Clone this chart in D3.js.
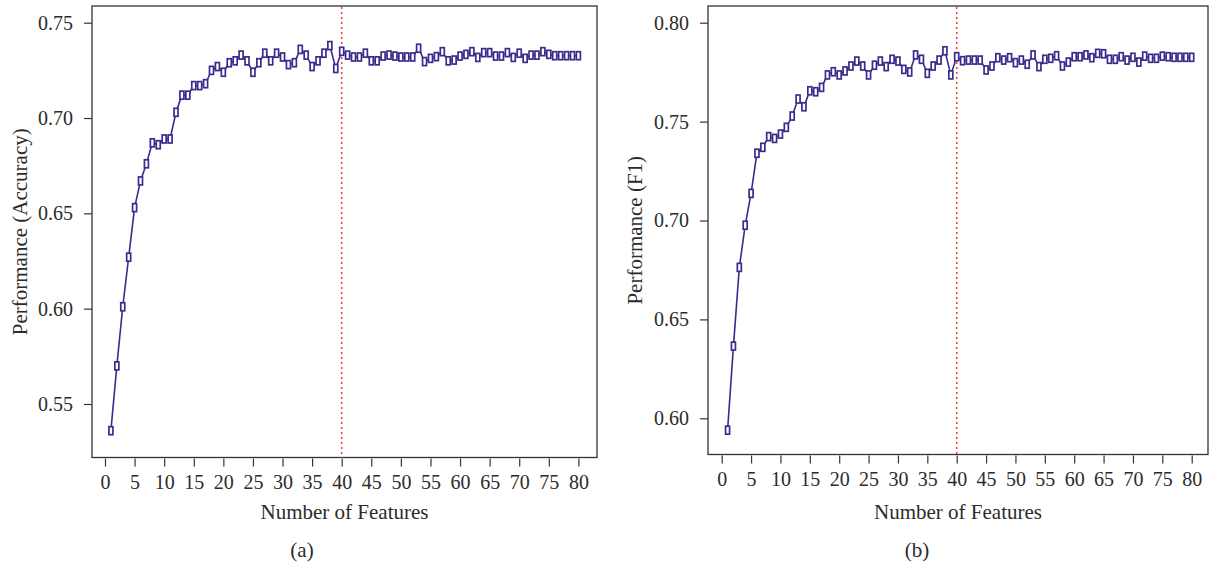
<!DOCTYPE html>
<html>
<head>
<meta charset="utf-8">
<script src="https://cdn.jsdelivr.net/npm/d3@7"></script>
<style>
  body { margin: 0; background: #fff; }
  svg text { font-family: "Liberation Serif", "DejaVu Serif", serif; fill: #2b2b2b; }
  .tick line { stroke: #333; stroke-width: 1.2; }
</style>
</head>
<body>
<div id="graph"></div>
<script>
const features = d3.range(1, 81)
const x_ticks = d3.range(0, 81, 5)

const accuracy = [0.536,0.570,0.601,0.627,0.653,0.667,0.676,0.687,0.686,0.689,
                  0.689,0.703,0.712,0.712,0.717,0.717,0.718,0.725,0.727,0.724,
                  0.729,0.730,0.733,0.730,0.724,0.729,0.734,0.730,0.734,0.732,
                  0.728,0.729,0.736,0.733,0.727,0.730,0.734,0.738,0.726,0.735,
                  0.733,0.732,0.732,0.734,0.730,0.730,0.7325,0.733,0.7325,0.732,
                  0.732,0.732,0.7366,0.7296,0.7313,0.7322,0.7348,0.730,0.7304,0.7325,
                  0.7334,0.7348,0.7318,0.7343,0.7343,0.7325,0.7325,0.7343,0.7318,0.734,
                  0.7313,0.733,0.733,0.7348,0.7334,0.7327,0.7327,0.7327,0.7327,0.7327]
const acc_ticks = [0.55, 0.60, 0.65, 0.70, 0.75]

const f1 = [0.594,0.6365,0.6763,0.6976,0.7137,0.734,0.737,0.7424,0.7415,0.7437,
            0.7471,0.7528,0.7614,0.7575,0.7656,0.7651,0.7673,0.7736,0.7752,0.7736,
            0.7756,0.7781,0.7806,0.7781,0.7736,0.7785,0.7806,0.7778,0.7815,0.7806,
            0.7764,0.7751,0.7837,0.7815,0.7744,0.7781,0.7811,0.7858,0.7736,0.7828,
            0.7808,0.7811,0.7811,0.7811,0.7761,0.7781,0.7823,0.7811,0.7823,0.7798,
            0.7811,0.779,0.7837,0.7778,0.7815,0.782,0.7833,0.7781,0.7801,0.7828,
            0.7828,0.7837,0.7823,0.7845,0.7843,0.7815,0.7815,0.7828,0.7811,0.7825,
            0.7801,0.7831,0.782,0.782,0.7831,0.7828,0.7825,0.7825,0.7825,0.7825]
const f1_ticks = [0.60, 0.65, 0.70, 0.75, 0.80]

const cutoff = 40
const line_col = '#3a2c8c'
const cut_col = '#e8463e'

const w = 1210
const h = 563
const svg = d3.select('#graph')
              .append('svg')
              .attr('width', w)
              .attr('height', h)

function drawPanel(p) {
  const xScale = d3.scaleLinear()
                   .domain([0, 80])
                   .range([p.x0, p.x80])
  const yScale = d3.scaleLinear()
                   .domain([p.ylo, p.yhi])
                   .range([p.ylo_px, p.yhi_px])
  const g = svg.append('g')

  //box
  g.append('rect')
   .attr('x', p.left).attr('y', p.top)
   .attr('width', p.right - p.left).attr('height', p.bottom - p.top)
   .attr('fill', 'none').attr('stroke', '#333').attr('stroke-width', 1.3)

  //x-Axis
  const xAxis = d3.axisBottom(xScale)
                  .tickValues(x_ticks)
                  .tickFormat(d3.format('d'))
                  .tickSizeOuter(0)
                  .tickSize(8)
                  .tickPadding(8)
  const gx = g.append('g')
              .attr('transform', 'translate(0,' + (p.bottom + 1) + ')')
              .call(xAxis)
  gx.select('.domain').remove()
  gx.selectAll('text').attr('font-size', 20).attr('fill', '#2b2b2b')

  //y-Axis
  const yAxis = d3.axisLeft(yScale)
                  .tickValues(p.ticks)
                  .tickFormat(d3.format('.2f'))
                  .tickSizeOuter(0)
                  .tickSize(8)
                  .tickPadding(11)
  const gy = g.append('g')
              .attr('transform', 'translate(' + p.left + ',0)')
              .call(yAxis)
  gy.select('.domain').remove()
  gy.selectAll('text').attr('font-size', 20).attr('fill', '#2b2b2b')

  //cutoff line
  g.append('line')
   .attr('x1', xScale(cutoff)).attr('x2', xScale(cutoff))
   .attr('y1', p.top + 1).attr('y2', p.bottom)
   .attr('stroke', cut_col).attr('stroke-width', 1.6)
   .attr('stroke-dasharray', '2,3')

  //line
  const line = d3.line()
                 .x((d, i) => xScale(features[i]))
                 .y(d => yScale(d))
  g.append('path')
   .datum(p.values)
   .attr('d', line)
   .attr('fill', 'none')
   .attr('stroke', line_col)
   .attr('stroke-width', 1.6)

  //markers
  g.selectAll('rect.pt')
   .data(p.values)
   .enter()
   .append('rect')
   .attr('class', 'pt')
   .attr('x', (d, i) => xScale(features[i]) - 2)
   .attr('y', d => yScale(d) - 4)
   .attr('width', 4)
   .attr('height', 8)
   .attr('fill', '#fff')
   .attr('stroke', line_col)
   .attr('stroke-width', 1.7)

  //y-label
  g.append('text')
   .text(p.ylab)
   .attr('transform', 'translate(' + p.ylab_x + ',' + ((p.top + p.bottom) / 2) + ') rotate(-90)')
   .attr('text-anchor', 'middle')
   .attr('font-size', 21)

  //x-label
  g.append('text')
   .text('Number of Features')
   .attr('x', (p.left + p.right) / 2)
   .attr('y', 519)
   .attr('text-anchor', 'middle')
   .attr('font-size', 21)

  //panel tag
  g.append('text')
   .text(p.tag)
   .attr('x', p.tag_x)
   .attr('y', 557)
   .attr('text-anchor', 'middle')
   .attr('font-size', 21)
}

drawPanel({
  values: accuracy, ticks: acc_ticks, ylab: 'Performance (Accuracy)', tag: '(a)',
  left: 92, right: 597, top: 6, bottom: 457.5,
  x0: 105, x80: 578.4,
  ylo: 0.55, yhi: 0.75, ylo_px: 404, yhi_px: 22.7,
  ylab_x: 27, tag_x: 302
})

drawPanel({
  values: f1, ticks: f1_ticks, ylab: 'Performance (F1)', tag: '(b)',
  left: 708, right: 1208, top: 6, bottom: 454.5,
  x0: 721.7, x80: 1191.7,
  ylo: 0.60, yhi: 0.80, ylo_px: 418.3, yhi_px: 22.7,
  ylab_x: 642, tag_x: 917
})
</script>
</body>
</html>
